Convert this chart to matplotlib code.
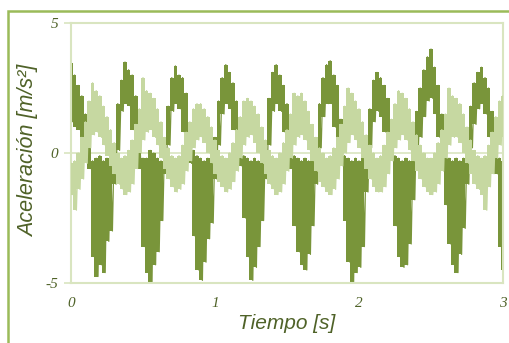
import matplotlib
matplotlib.use('Agg')
import matplotlib.pyplot as plt
import matplotlib.patches as patches
import numpy as np

# --- DATA (envelope per 0.025 s sample) ---
t = np.linspace(0.0, 3.0, 121)

dark_hi = [3.45, 3.0, 2.6, 2.2, 1.5, 0.5, -0.3, -0.2, -0.1, -0.3,
           -0.2, -0.1, 0.3, 1.9, 2.8, 3.5, 3.2, 3.0, 2.2, 0.6,
           -0.2, -0.2, 0.1, 0.0, -0.2, -0.3, 0.5, 1.8, 2.9, 3.35,
           3.0, 2.9, 2.3, 1.0, 0.1, -0.1, -0.2, -0.3, -0.2, -0.1,
           0.6, 2.0, 2.9, 3.4, 3.1, 2.7, 2.0, 0.9, -0.1, -0.2,
           -0.3, -0.2, -0.3, -0.2, 0.4, 2.1, 3.1, 3.4, 3.0, 2.6,
           1.9, 0.6, -0.1, -0.2, -0.3, -0.2, -0.3, -0.2, 0.5, 1.9,
           2.9, 3.4, 3.55, 3.0, 2.6, 1.3, -0.1, -0.2, -0.3, -0.2,
           -0.3, -0.2, 0.4, 1.7, 2.8, 3.1, 2.9, 2.6, 2.1, 1.0,
           -0.1, -0.2, -0.3, -0.2, -0.3, 0.3, 1.6, 2.5, 3.2, 3.7,
           4.0, 3.3, 2.6, 1.5, -0.1, -0.2, -0.3, -0.2, -0.3, -0.2,
           0.4, 1.8, 2.7, 3.1, 3.3, 2.9, 2.5, 1.6, 0.3, -0.2,
           -0.3]
dark_lo = [1.2, 1.0, 0.9, 0.5, 0.1, -0.6, -4.0, -4.75, -4.3, -4.6,
           -3.4, -3.0, -1.2, 0.1, 1.6, 1.9, 1.8, 0.9, 0.6, -0.6,
           -3.6, -4.6, -5.0, -4.3, -3.8, -2.6, -0.8, 0.3, 1.6, 1.9,
           1.7, 0.8, 0.5, -0.4, -3.2, -4.5, -4.9, -4.2, -3.3, -2.7,
           -1.0, 0.3, 1.5, 1.9, 1.7, 0.9, 0.4, -0.5, -2.5, -4.0,
           -4.9, -4.4, -3.6, -2.6, -1.0, 0.3, 1.6, 1.9, 1.6, 0.8,
           0.2, -0.6, -2.8, -3.8, -4.3, -4.5, -3.9, -2.8, -1.2, 0.2,
           1.4, 1.9, 1.9, 1.0, 0.5, -0.3, -2.6, -4.2, -5.0, -4.6,
           -4.4, -3.6, -1.5, 0.2, 1.2, 1.6, 1.4, 0.8, 0.3, -0.3,
           -2.8, -4.0, -4.4, -4.3, -3.5, -1.8, 0.2, 0.6, 1.4, 2.0,
           2.1, 1.5, 0.6, 0.0, -2.0, -3.5, -4.3, -4.6, -3.9, -2.9,
           -1.2, 0.2, 1.1, 1.7, 1.9, 1.5, 0.6, 0.0, -0.8, -3.6,
           -4.5]

light_hi = [-0.4, -0.3, 0.0, 0.6, 1.2, 2.0, 2.7, 2.4, 2.2, 1.8,
            1.4, 0.9, 0.4, 0.0, -0.2, -0.1, 0.1, 0.5, 1.1, 1.7,
            2.9, 2.4, 2.3, 2.1, 1.7, 1.2, 0.6, 0.2, -0.1, -0.2,
            -0.1, 0.3, 0.8, 1.2, 1.7, 1.9, 1.9, 1.7, 1.4, 1.0,
            0.5, 0.1, -0.1, -0.2, 0.0, 0.4, 0.9, 1.4, 2.0, 2.1,
            2.0, 1.8, 1.5, 1.0, 0.5, 0.1, -0.1, -0.2, 0.0, 0.4,
            0.9, 1.5, 2.3, 2.2, 2.3, 2.0, 1.6, 1.1, 0.6, 0.2,
            0.0, -0.2, -0.1, 0.2, 0.6, 1.1, 1.8, 2.5, 2.3, 2.0,
            1.7, 1.2, 0.7, 0.3, 0.0, -0.2, -0.1, 0.3, 0.8, 1.3,
            1.9, 2.4, 2.3, 2.1, 1.7, 1.2, 0.7, 0.3, 0.0, -0.2,
            -0.2, 0.0, 0.4, 0.9, 1.5, 2.5, 2.2, 2.1, 1.9, 1.5,
            1.0, 0.5, 0.1, -0.1, -0.2, -0.1, 0.3, 0.8, 1.4, 2.0,
            2.2]
light_lo = [-1.6, -2.2, -1.4, -1.0, -0.4, 0.2, 0.7, 0.8, 0.6, 0.3,
            -0.1, -0.5, -0.8, -1.2, -1.4, -1.6, -1.5, -1.2, -0.6, 0.0,
            0.5, 0.8, 0.9, 0.6, 0.3, -0.2, -0.6, -1.0, -1.3, -1.5,
            -1.4, -1.2, -0.7, -0.3, 0.2, 0.5, 0.6, 0.4, 0.0, -0.4,
            -0.8, -1.1, -1.3, -1.5, -1.4, -1.1, -0.7, -0.2, 0.3, 0.6,
            0.7, 0.4, 0.0, -0.4, -0.8, -1.2, -1.4, -1.6, -1.5, -1.2,
            -0.7, -0.2, 0.3, 0.6, 0.7, 0.5, 0.1, -0.3, -0.7, -1.1,
            -1.3, -1.5, -1.6, -1.4, -1.0, -0.5, 0.0, 0.4, 0.7, 0.5,
            0.2, -0.2, -0.6, -1.0, -1.3, -1.5, -1.5, -1.3, -0.8, -0.3,
            0.2, 0.5, 0.7, 0.5, 0.1, -0.3, -0.7, -1.0, -1.3, -1.5,
            -1.6, -1.5, -1.2, -0.7, -0.2, 0.3, 0.6, 0.6, 0.4, 0.0,
            -0.4, -0.8, -1.2, -1.4, -1.6, -2.2, -1.3, -0.8, -0.2, 0.3,
            0.6]

x_ticks = [0, 1, 2, 3]
y_ticks = [-5, 0, 5]
y_ticklabels = ['-5', '0', '5']

DARK = '#79953a'
LIGHT = '#c6d8a1'
FRAME = '#d9e5c0'
TEXT = '#4f6228'
BORDER = '#9bbb59'


def zigzag(tt, hi, lo):
    # noisy trace: alternate between the upper and lower envelope
    dt = tt[1] - tt[0]
    xs = np.empty(2 * len(tt)); ys = np.empty(2 * len(tt))
    xs[0::2] = tt; xs[1::2] = tt + dt / 2
    ys[0::2] = hi; ys[1::2] = lo
    return xs[:-1], ys[:-1]


fig = plt.figure(figsize=(5.09, 3.43), dpi=100)
ax = fig.add_axes([71 / 509, 60 / 343, 432 / 509, 260 / 343])

for hi, lo, col, z in [(dark_hi, dark_lo, DARK, 2), (light_hi, light_lo, LIGHT, 3)]:
    ax.fill_between(t, lo, hi, color=col, lw=0, zorder=z, step='mid')
    xz, yz = zigzag(t, hi, lo)
    ax.plot(xz, yz, color=col, lw=0.9, zorder=z)

ax.set_xlim(0, 3); ax.set_ylim(-5, 5)
ax.set_xticks(x_ticks); ax.set_yticks(y_ticks, y_ticklabels)
ax.axhline(0, color=FRAME, lw=1.2, zorder=1)
for s in ax.spines.values():
    s.set_color(FRAME); s.set_linewidth(1.5)
ax.tick_params(axis='y', length=5, width=1.2, color=FRAME, pad=4)
ax.tick_params(axis='x', length=0, pad=10)
for lab in ax.get_xticklabels() + ax.get_yticklabels():
    lab.set_fontfamily('Liberation Serif'); lab.set_fontstyle('italic')
    lab.set_fontsize(11); lab.set_color(TEXT)

ax.set_xlabel('Tiempo [s]', fontsize=15, style='italic', color=TEXT,
              family='Liberation Sans', labelpad=3)
ax.set_ylabel('Aceleración [m/s²]', fontsize=15.5, style='italic', color=TEXT,
              family='Liberation Sans')
ax.yaxis.set_label_coords(-0.073, 0.51)

# outer chart border (open to the right and bottom)
fig.patches.append(patches.Rectangle((7.8 / 509, -0.2), 1.2, (343 - 10.5) / 343 + 0.2,
                                     transform=fig.transFigure, fill=False,
                                     ec=BORDER, lw=1.8))

fig.savefig('out.png', dpi=100)
